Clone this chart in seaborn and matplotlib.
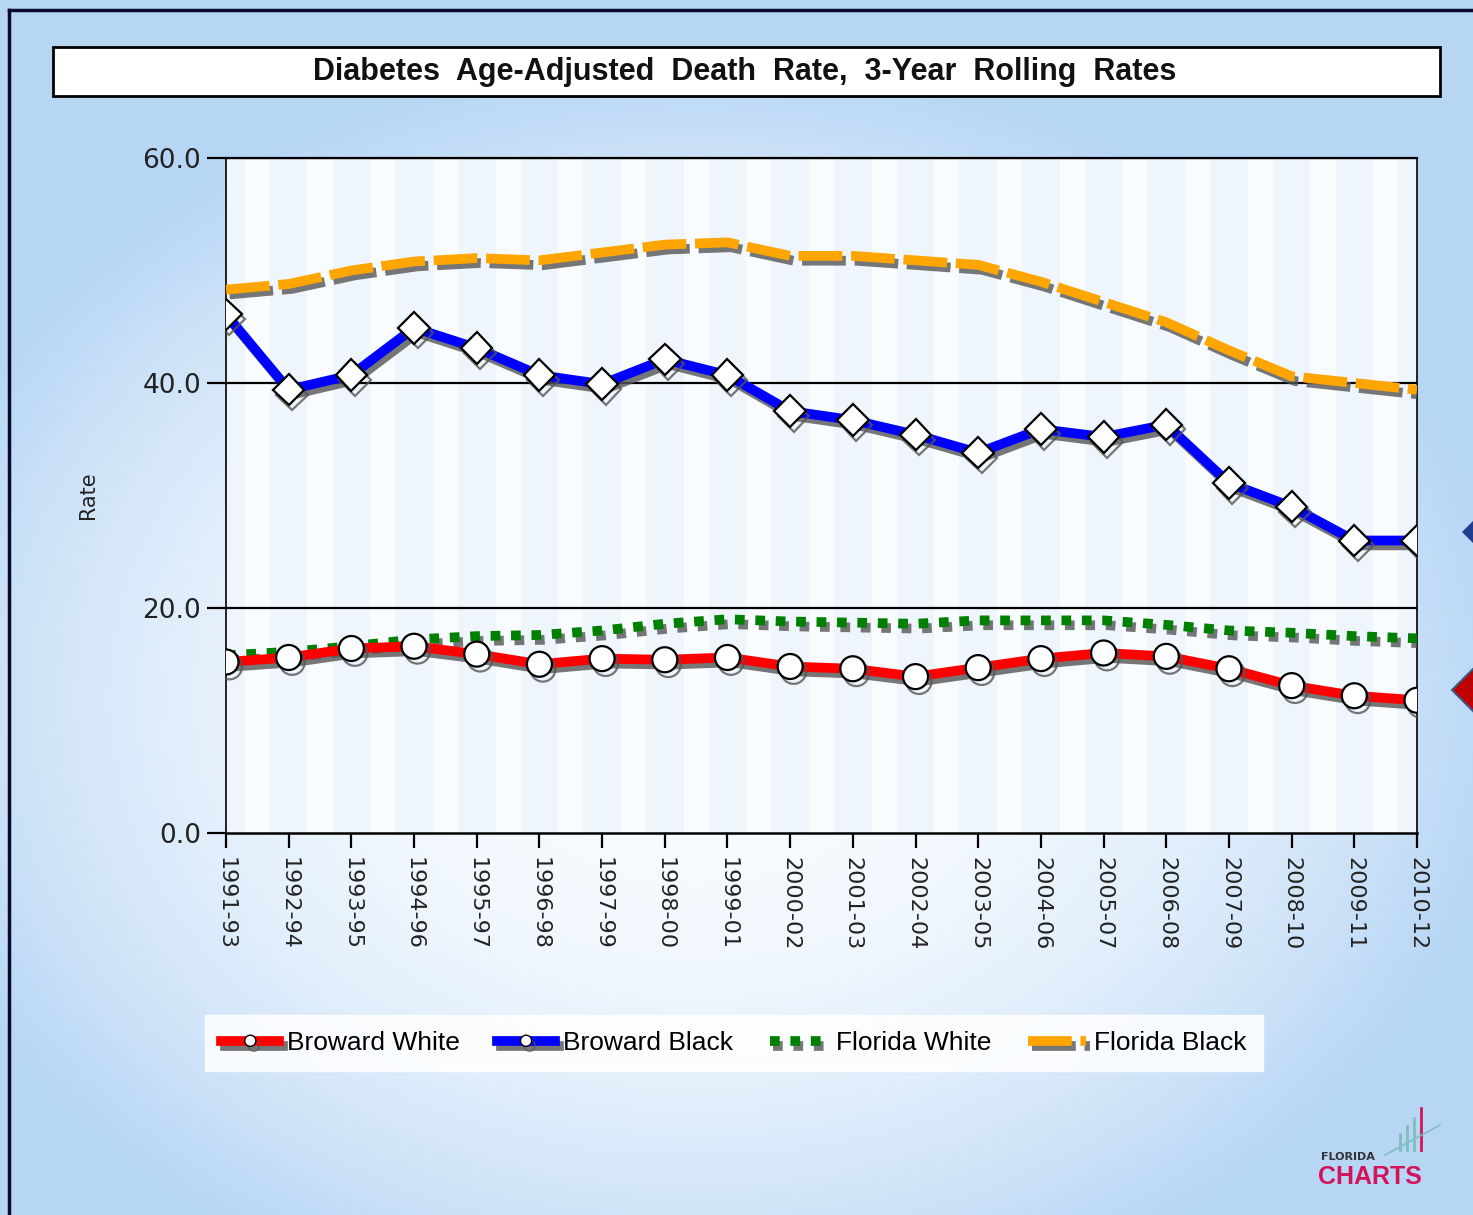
'''
Diabetes age-adjusted death rate, 3-year rolling rates (Broward vs Florida).
'''

#%%
import numpy as np
import pandas as pd
import seaborn as sns
import matplotlib.pyplot as plt
import matplotlib.patheffects as pe
from matplotlib.patches import Rectangle, Polygon
from matplotlib.lines import Line2D

# %% data
periods = ['1991-93', '1992-94', '1993-95', '1994-96', '1995-97', '1996-98', '1997-99',
           '1998-00', '1999-01', '2000-02', '2001-03', '2002-04', '2003-05', '2004-06',
           '2005-07', '2006-08', '2007-09', '2008-10', '2009-11', '2010-12']

broward_white = [15.2, 15.6, 16.4, 16.6, 15.9, 15.0, 15.5, 15.4, 15.6, 14.8,
                 14.6, 13.9, 14.7, 15.5, 16.0, 15.7, 14.6, 13.1, 12.2, 11.8]
broward_black = [46.1, 39.4, 40.7, 44.9, 43.1, 40.7, 39.9, 42.1, 40.7, 37.5,
                 36.7, 35.4, 33.8, 35.9, 35.2, 36.3, 31.1, 29.0, 26.0, 26.0]
florida_white = [15.8, 16.1, 16.6, 17.2, 17.5, 17.6, 18.0, 18.6, 19.0, 18.8,
                 18.7, 18.6, 18.9, 18.9, 18.9, 18.5, 18.0, 17.8, 17.5, 17.3]
florida_black = [48.3, 48.8, 50.0, 50.8, 51.1, 50.9, 51.6, 52.3, 52.5, 51.3,
                 51.3, 50.9, 50.5, 49.0, 47.2, 45.4, 42.9, 40.6, 40.0, 39.4]

series_names = ['Broward White', 'Broward Black', 'Florida White', 'Florida Black']
y_ticks = [0, 20, 40, 60]

df = pd.DataFrame({'period': periods,
                   'Broward White': broward_white,
                   'Broward Black': broward_black,
                   'Florida White': florida_white,
                   'Florida Black': florida_black})
df['x'] = np.arange(len(periods))

# %% figure + background
W, H = 1473, 1215
fig = plt.figure(figsize=(W / 100, H / 100), dpi=100)

bg = fig.add_axes([0, 0, 1, 1], zorder=-10)
gx, gy = np.meshgrid(np.linspace(-1, 1, 300), np.linspace(-1, 1, 300))
r = np.clip(np.sqrt((gx * 0.9 + 0.05) ** 2 + ((gy + 0.15) * 0.95) ** 2), 0, 1)
c_in = np.array([0.98, 0.99, 1.0])
c_out = np.array([0.72, 0.84, 0.96])
img = c_in[None, None, :] * (1 - r[..., None] ** 2.2) + c_out[None, None, :] * r[..., None] ** 2.2
bg.imshow(img, extent=[0, 1, 0, 1], aspect='auto', origin='lower')
bg.set_xlim(0, 1)
bg.set_ylim(0, 1)
bg.axis('off')

# outer frame (top and left edges visible)
fig.add_artist(Line2D([9 / W, 9 / W], [0, 1 - 10 / H], color='#0a0a2a', lw=2.5))
fig.add_artist(Line2D([9 / W, 1], [1 - 10 / H, 1 - 10 / H], color='#0a0a2a', lw=2.5))

# title box
fig.add_artist(Rectangle((53 / W, 1 - 96 / H), (1440 - 53) / W, 49 / H,
                         facecolor='white', edgecolor='black', lw=2))
fig.text(745 / W, 1 - 72 / H, 'Diabetes  Age-Adjusted  Death  Rate,  3-Year  Rolling  Rates',
         ha='center', va='center', fontsize=22, fontweight='bold',
         family=['Liberation Sans', 'DejaVu Sans'], color='#111111')

# %% plot
ax = fig.add_axes([226 / W, 1 - 833 / H, (1417 - 226) / W, (833 - 158) / H])
ax.set_facecolor('#f9fcff')

# soft vertical banding in the plot area
for i in range(len(periods)):
    ax.axvspan(i - 0.3, i + 0.3, color='#e3eef9', alpha=0.45, lw=0, zorder=0)

for yv in y_ticks[1:]:
    ax.axhline(yv, color='black', lw=1.6, zorder=1)

shadow = [pe.SimpleLineShadow(offset=(2.5, -3.5), shadow_color='#555555', alpha=0.8), pe.Normal()]

styles = {
    'Broward White': dict(color='#ff0000', marker='o', markersize=18, dashes=False),
    'Broward Black': dict(color='#0000ff', marker='D', markersize=16, dashes=False),
    'Florida White': dict(color='#008000', marker=None, markersize=0, dashes=(1, 1.1)),
    'Florida Black': dict(color='#ffa500', marker=None, markersize=0, dashes=(4.5, 0.9)),
}
order = ['Florida Black', 'Florida White', 'Broward White', 'Broward Black']
for name in order:
    st = styles[name]
    kw = {}
    if st['marker']:
        kw = dict(marker=st['marker'], markersize=st['markersize'],
                  markerfacecolor='white', markeredgecolor='black', markeredgewidth=1.6)
    g = sns.lineplot(data=df, x='x', y=name, ax=ax, color=st['color'], lw=7,
                     label=name, zorder=3, **kw)
    line = ax.get_lines()[-1]
    if st['dashes']:
        line.set_dashes(st['dashes'])
        line.set_solid_capstyle('butt')
    line.set_path_effects(shadow)

ax.set_xlim(0, len(periods) - 1)
ax.set_ylim(0, 60)
ax.set_yticks(y_ticks)
ax.set_yticklabels([f'{v:.1f}' for v in y_ticks])
ax.set_xticks(df['x'])
ax.set_xticklabels(periods, rotation=-90)
ax.tick_params(axis='y', length=14, width=1.6, labelsize=19, colors='black', pad=4)
ax.tick_params(axis='x', length=11, width=1.6, labelsize=16, pad=6)
for lbl in ax.get_yticklabels() + ax.get_xticklabels():
    lbl.set_color('#222222')
ax.set_xlabel('')
ax.set_ylabel('Rate', fontsize=15, labelpad=32, color='#222222')

ax.spines['top'].set_linewidth(1.6)
ax.spines['bottom'].set_linewidth(1.8)
for s in ['left', 'right']:
    ax.spines[s].set_linestyle((0, (1, 1)))
    ax.spines[s].set_linewidth(1.2)

# legend
handles = []
for name in series_names:
    st = styles[name]
    h = Line2D([0], [0], color=st['color'], lw=7,
               marker='o' if st['marker'] else None, markersize=8,
               markerfacecolor='white', markeredgecolor='black')
    if st['dashes']:
        h.set_dashes(st['dashes'])
    h.set_path_effects(shadow)
    handles.append(h)
ax.get_legend().remove()
leg = fig.legend(handles, series_names, loc='center', bbox_to_anchor=(734 / W, 1 - 1043 / H),
                 ncol=4, frameon=True, fancybox=False, handlelength=2.2,
                 columnspacing=1.4, handletextpad=0.3, borderpad=0.6,
                 prop={'family': ['Liberation Sans', 'DejaVu Sans'], 'size': 19})
leg.get_frame().set_facecolor('white')
leg.get_frame().set_edgecolor('white')
leg.get_frame().set_alpha(0.85)

# cut-off shapes at the right edge
fig.add_artist(Polygon([(1462 / W, 1 - 532 / H), (1480 / W, 1 - 514 / H), (1480 / W, 1 - 550 / H)],
                       closed=True, facecolor='#1f3f8f', edgecolor='none'))
fig.add_artist(Polygon([(1452 / W, 1 - 690 / H), (1490 / W, 1 - 652 / H), (1490 / W, 1 - 728 / H)],
                       closed=True, facecolor='#c00000', edgecolor='#3a5a8a', lw=1.5))

# logo
fig.text(1321 / W, 1 - 1160 / H, 'FLORIDA', fontsize=8, fontweight='bold', color='#333333')
fig.text(1318 / W, 1 - 1184 / H, 'CHARTS', fontsize=18, fontweight='bold', color='#d4145a',
         family=['Liberation Sans', 'DejaVu Sans'])
for k, hh in enumerate([16, 24, 32, 42]):
    fig.add_artist(Line2D([(1400 + k * 7) / W] * 2, [1 - 1150 / H, 1 - (1150 - hh) / H],
                          color='#d4145a' if k == 3 else '#7fbfbf', lw=2))
fig.add_artist(Line2D([1385 / W, 1440 / W], [1 - 1155 / H, 1 - 1125 / H], color='#7fbfbf', lw=1.2))

fig.savefig('out.png', dpi=100)
